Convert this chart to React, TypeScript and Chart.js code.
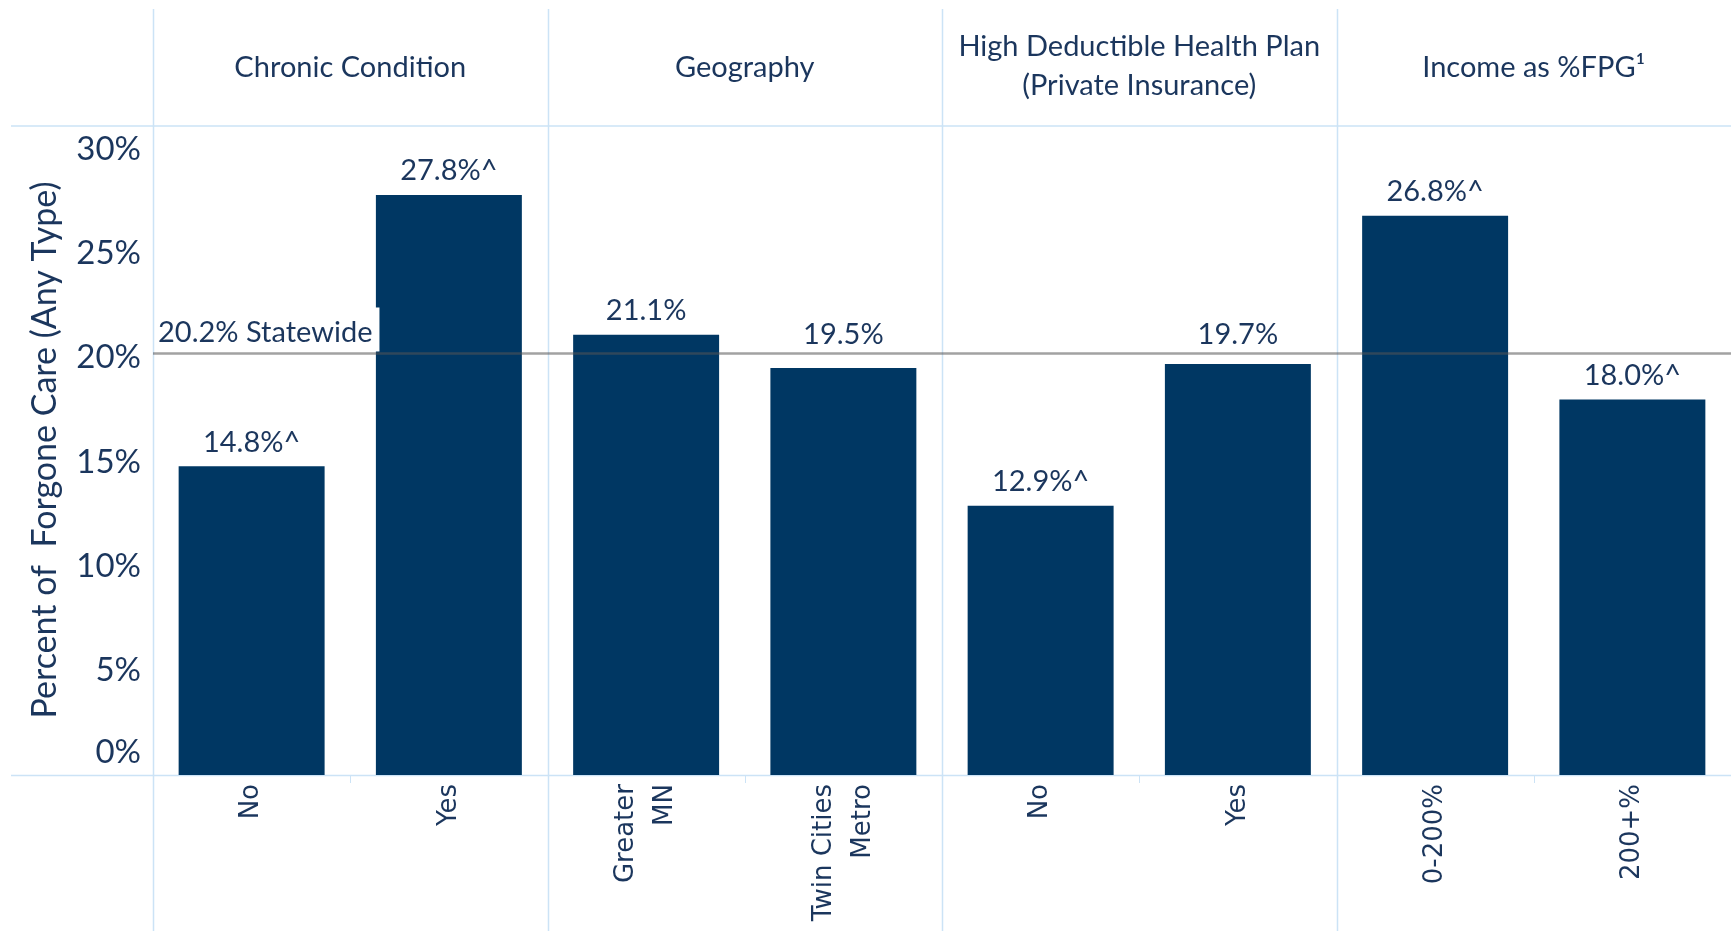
import React, { useEffect, useRef } from 'react';
import { Chart, registerables } from 'chart.js';

Chart.register(...registerables);

// ---------- data ----------
const groupTitles: string[][] = [
  ['Chronic Condition'],
  ['Geography'],
  ['High Deductible Health Plan', '(Private Insurance)'],
  ['Income as %FPG\u00B9'],
];
const groupSizes = [2, 2, 2, 2];
const categories: string[][] = [
  ['No'],
  ['Yes'],
  ['Greater', 'MN'],
  ['Twin Cities', 'Metro'],
  ['No'],
  ['Yes'],
  ['0-200%'],
  ['200+%'],
];
const values = [14.8, 27.8, 21.1, 19.5, 12.9, 19.7, 26.8, 18.0];
const significant = [true, true, false, false, true, false, true, true];
const yTicks = [0, 5, 10, 15, 20, 25, 30];
const statewideValue = 20.2;
const statewideLabel = '20.2% Statewide';
const yTitle = 'Percent of  Forgone Care (Any Type)';

// ---------- styles ----------
const W = 1731;
const H = 933;
const NAVY = '#003763';
const TEXT = '#1b365d';
const GRID = '#cce3f6';
const TITLE_FONT = 'Lato, "Noto Sans", sans-serif';
const TICK_FONT = '"DejaVu Sans", Verdana, sans-serif';
const HEADER_LINE_Y = 126;
const CHART_TOP = 149;
const CHART_BOTTOM = 775;

const overlay = {
  id: 'overlay',
  beforeDatasetsDraw(chart: any) {
    const { ctx, chartArea } = chart;
    const x = chart.scales.x;
    const y = chart.scales.y;
    const step = x.getPixelForValue(1) - x.getPixelForValue(0);
    const base = y.getPixelForValue(0);
    ctx.save();
    ctx.strokeStyle = GRID;
    ctx.lineWidth = 1.5;
    // horizontal lines
    ctx.beginPath();
    ctx.moveTo(11, HEADER_LINE_Y);
    ctx.lineTo(W, HEADER_LINE_Y);
    ctx.moveTo(11, base + 0.5);
    ctx.lineTo(W, base + 0.5);
    ctx.stroke();
    // vertical group lines
    let idx = 0;
    ctx.beginPath();
    groupSizes.forEach((n) => {
      const px = Math.round(x.getPixelForValue(idx) - step / 2) + 0.5;
      ctx.moveTo(px, 9);
      ctx.lineTo(px, 931);
      idx += n;
    });
    ctx.stroke();
    // small separators inside groups
    ctx.lineWidth = 1;
    ctx.beginPath();
    idx = 0;
    groupSizes.forEach((n) => {
      for (let k = 1; k < n; k++) {
        const px = Math.round(x.getPixelForValue(idx + k) - step / 2) + 0.5;
        ctx.moveTo(px, base);
        ctx.lineTo(px, base + 8);
      }
      idx += n;
    });
    ctx.stroke();

    // group titles
    ctx.fillStyle = TEXT;
    ctx.font = `29px ${TITLE_FONT}`;
    ctx.textAlign = 'center';
    ctx.textBaseline = 'middle';
    idx = 0;
    groupSizes.forEach((n, g) => {
      const cx = (x.getPixelForValue(idx) + x.getPixelForValue(idx + n - 1)) / 2;
      const lines = groupTitles[g];
      if (lines.length === 1) {
        ctx.fillText(lines[0], cx, 68);
      } else {
        ctx.fillText(lines[0], cx, 47);
        ctx.fillText(lines[1], cx, 86);
      }
      idx += n;
    });

    // y tick labels
    ctx.font = `33px ${TITLE_FONT}`;
    ctx.textAlign = 'right';
    yTicks.forEach((t) => {
      const py = y.getPixelForValue(t);
      ctx.textBaseline = 'middle';
      ctx.fillText(`${t}%`, 141, t === 0 ? py - 23 : py);
    });

    // y title
    ctx.save();
    ctx.translate(45, 450);
    ctx.rotate(-Math.PI / 2);
    ctx.font = `34px ${TITLE_FONT}`;
    ctx.textAlign = 'center';
    ctx.textBaseline = 'middle';
    ctx.fillText(yTitle, 0, 0);
    ctx.restore();

    // x labels
    ctx.font = `26px ${TICK_FONT}`;
    categories.forEach((lines, i) => {
      const cx = x.getPixelForValue(i);
      const lh = 39;
      lines.forEach((ln, j) => {
        const lx = cx + (j - (lines.length - 1) / 2) * lh;
        ctx.save();
        ctx.translate(lx, base + 9);
        ctx.rotate(-Math.PI / 2);
        ctx.textAlign = 'right';
        ctx.textBaseline = 'middle';
        ctx.fillText(ln, 0, 0);
        ctx.restore();
      });
    });
    ctx.restore();
  },
  afterDatasetsDraw(chart: any) {
    const { ctx, chartArea } = chart;
    const y = chart.scales.y;
    const meta = chart.getDatasetMeta(0);
    const sy = y.getPixelForValue(statewideValue);
    ctx.save();
    // value labels
    ctx.fillStyle = TEXT;
    ctx.font = `29px ${TITLE_FONT}`;
    ctx.textAlign = 'center';
    ctx.textBaseline = 'middle';
    meta.data.forEach((bar: any, i: number) => {
      const txt = `${values[i].toFixed(1)}%${significant[i] ? '^' : ''}`;
      let ly = bar.y - 24;
      if (ly + 14 > sy - 2 && ly - 14 < sy + 2) ly = sy - 19;
      ctx.fillText(txt, bar.x, ly);
    });
    // statewide line
    ctx.strokeStyle = 'rgba(85,85,85,0.55)';
    ctx.lineWidth = 2.5;
    ctx.beginPath();
    ctx.moveTo(chartArea.left, sy);
    ctx.lineTo(chartArea.right, sy);
    ctx.stroke();
    const tw = ctx.measureText(statewideLabel).width;
    ctx.fillStyle = '#ffffff';
    ctx.fillRect(chartArea.left + 2, sy - 46, tw + 10, 44);
    ctx.fillStyle = TEXT;
    ctx.textAlign = 'left';
    ctx.textBaseline = 'middle';
    ctx.fillText(statewideLabel, chartArea.left + 5, sy - 21);
    ctx.restore();
  },
};

export default function App() {
  const ref = useRef<HTMLCanvasElement | null>(null);
  useEffect(() => {
    if (!ref.current) return;
    const chart = new Chart(ref.current, {
      type: 'bar',
      data: {
        labels: categories.map((c) => c.join(' ')),
        datasets: [
          {
            data: values,
            backgroundColor: NAVY,
            barPercentage: 0.74,
            categoryPercentage: 1,
          },
        ],
      },
      options: {
        responsive: false,
        animation: false,
        devicePixelRatio: 1,
        layout: { padding: { left: 153, right: 0, top: CHART_TOP, bottom: H - CHART_BOTTOM } },
        plugins: { legend: { display: false }, tooltip: { enabled: false } },
        scales: {
          x: { display: false },
          y: { display: false, min: 0, max: 30 },
        },
      },
      plugins: [overlay],
    });
    return () => chart.destroy();
  }, []);
  return (
    <div style={{ position: 'absolute', left: 0, top: 0, width: W, height: H, background: '#fff' }}>
      <canvas ref={ref} width={W} height={H} style={{ width: W, height: H, display: 'block' }} />
    </div>
  );
}
